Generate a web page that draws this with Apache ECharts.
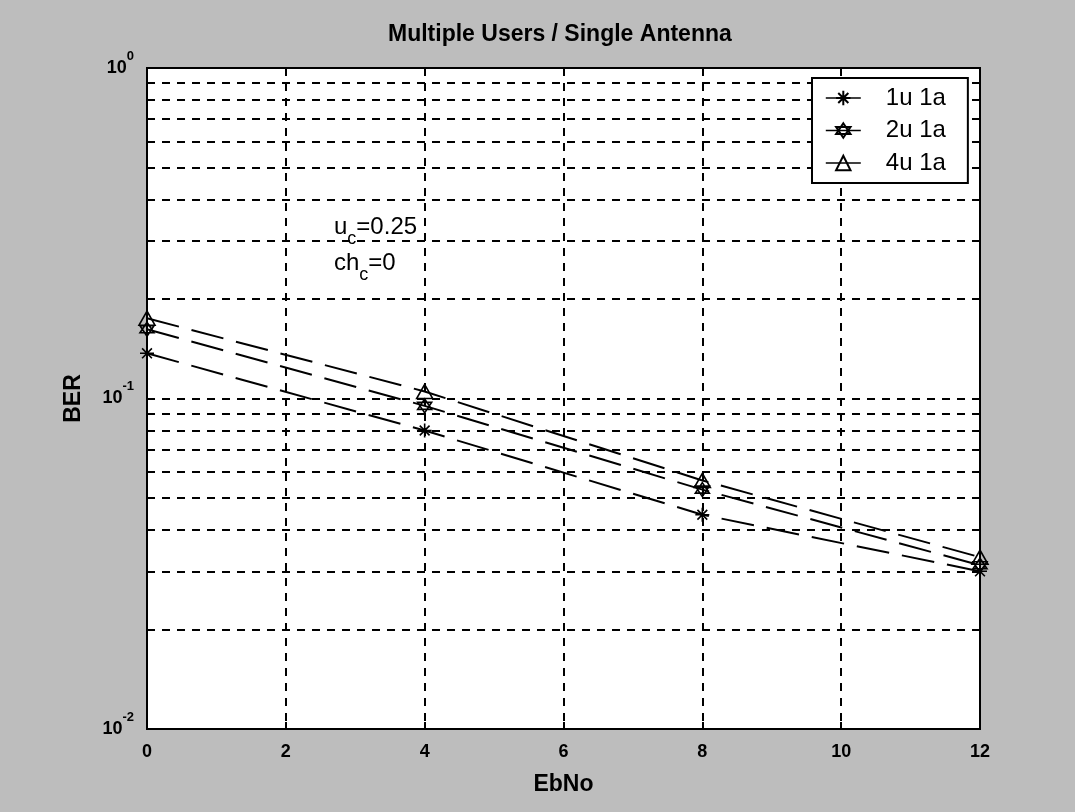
<!DOCTYPE html>
<html>
<head>
<meta charset="utf-8">
<script src="https://cdn.jsdelivr.net/npm/echarts@6/dist/echarts.min.js"></script>
<style>
  html, body { margin: 0; padding: 0; background: #bdbdbd; }
  #chart { width: 1075px; height: 812px; }
</style>
</head>
<body>
<div id="chart"></div>
<script>
// Eb/No points (dB) and measured bit error rates
const ebno = [0, 4, 8, 12];
const ber1u1a = [0.137, 0.080, 0.0445, 0.0300];
const ber2u1a = [0.162, 0.095, 0.053, 0.0313];
const ber4u1a = [0.175, 0.105, 0.0565, 0.0331];
const seriesNames = ['1u 1a', '2u 1a', '4u 1a'];

// axis settings
const ebnoRange = [0, 12];
const ebnoStep = 2;
const berRange = [0.01, 1];
const berMinorLevels = [0.02, 0.03, 0.04, 0.05, 0.06, 0.07, 0.08, 0.09,
                        0.2, 0.3, 0.4, 0.5, 0.6, 0.7, 0.8, 0.9];

const FONT = 'Liberation Sans';
const gridDash = [8, 7];
const curveDash = [33, 13];

const asterisk = 'path://M0,-10L0,10M-10,0L10,0M-7,-7L7,7M-7,7L7,-7';
const hexagram = 'path://M0,-10L8.66,5L-8.66,5ZM0,10L8.66,-5L-8.66,-5Z';

function pairs(ys) { return ebno.map((x, i) => [x, ys[i]]); }

function curve(name, ys, symbol, size) {
  return {
    name: name,
    type: 'line',
    data: pairs(ys),
    symbol: symbol,
    symbolSize: size,
    showAllSymbol: true,
    lineStyle: { color: '#000', width: 2, type: curveDash },
    itemStyle: { color: 'rgba(0,0,0,0)', borderColor: '#000', borderWidth: 1.6 },
    emphasis: { disabled: true }
  };
}

const chart = echarts.init(document.getElementById('chart'), null, { renderer: 'canvas' });

const s1 = curve(seriesNames[0], ber1u1a, asterisk, 14);
s1.markLine = {
  silent: true,
  symbol: ['none', 'none'],
  label: { show: false },
  emphasis: { disabled: true },
  animation: false,
  lineStyle: { color: '#000', width: 2, type: gridDash },
  data: berMinorLevels.map(v => ({ yAxis: v }))
};

chart.setOption({
  animation: false,
  backgroundColor: '#bdbdbd',
  title: {
    text: 'Multiple Users / Single Antenna',
    left: 388,
    top: 23,
    padding: 0,
    textStyle: { fontFamily: FONT, fontSize: 23, fontWeight: 'bold', color: '#000' }
  },
  grid: {
    left: 147, right: 95, top: 68, bottom: 83,
    show: true, backgroundColor: '#fff', borderColor: '#000', borderWidth: 2
  },
  legend: {
    data: seriesNames,
    orient: 'vertical',
    left: 812,
    top: 78,
    z: 20,
    padding: [8, 22, 8, 13],
    itemWidth: 35,
    itemHeight: 18,
    itemGap: 8.5,
    backgroundColor: '#fff',
    borderColor: '#000',
    borderWidth: 2,
    borderRadius: 0,
    selectedMode: false,
    lineStyle: { type: 'solid', width: 1.6 },
    textStyle: { fontFamily: FONT, fontSize: 24, lineHeight: 24, color: '#000', padding: [0, 0, 0, 20] }
  },
  xAxis: [{
    type: 'value',
    min: ebnoRange[0], max: ebnoRange[1], interval: ebnoStep,
    position: 'bottom',
    axisLine: { show: true, lineStyle: { color: '#000', width: 2 } },
    axisTick: { show: true, inside: true, length: 7, lineStyle: { color: '#000', width: 2 } },
    axisLabel: { margin: 14, color: '#000', fontSize: 18, fontWeight: 'bold', fontFamily: FONT },
    splitLine: { show: true, lineStyle: { color: '#000', width: 2, type: gridDash } },
    name: 'EbNo',
    nameLocation: 'middle',
    nameGap: 44,
    nameTextStyle: { fontFamily: FONT, fontSize: 23, fontWeight: 'bold', color: '#000' }
  }, {
    type: 'value',
    min: ebnoRange[0], max: ebnoRange[1], interval: ebnoStep,
    position: 'top',
    axisLine: { show: false },
    axisTick: { show: true, inside: true, length: 7, lineStyle: { color: '#000', width: 2 } },
    axisLabel: { show: false },
    splitLine: { show: false }
  }],
  yAxis: {
    type: 'log',
    logBase: 10,
    min: berRange[0], max: berRange[1],
    axisLine: { show: true, lineStyle: { color: '#000', width: 2 } },
    axisTick: { show: true, inside: true, length: 7, lineStyle: { color: '#000', width: 2 } },
    splitLine: { show: true, lineStyle: { color: '#000', width: 2, type: gridDash } },
    axisLabel: {
      margin: 13,
      color: '#000',
      formatter: function (v) {
        const e = Math.round(Math.log10(v));
        return '{b|10}{s|' + e + '}';
      },
      rich: {
        // tall line box keeps "10" centred on the tick while the exponent sits at its top
        b: { fontFamily: FONT, fontSize: 18, fontWeight: 'bold', color: '#000', lineHeight: 37, verticalAlign: 'middle' },
        s: { fontFamily: FONT, fontSize: 13, fontWeight: 'bold', color: '#000', lineHeight: 13, verticalAlign: 'top' }
      }
    },
    name: 'BER',
    nameLocation: 'middle',
    nameGap: 62,
    nameRotate: 90,
    nameTextStyle: { fontFamily: FONT, fontSize: 23, fontWeight: 'bold', color: '#000' }
  },
  graphic: [{
    type: 'text',
    x: 334, y: 215,
    silent: true,
    style: {
      text: '{m|u}{c|c}{m|=0.25}',
      rich: {
        m: { fontFamily: FONT, fontSize: 24, lineHeight: 24, verticalAlign: 'top', fill: '#000' },
        c: { fontFamily: FONT, fontSize: 18, lineHeight: 33, verticalAlign: 'bottom', fill: '#000' }
      }
    }
  }, {
    type: 'text',
    x: 334, y: 251,
    silent: true,
    style: {
      text: '{m|ch}{c|c}{m|=0}',
      rich: {
        m: { fontFamily: FONT, fontSize: 24, lineHeight: 24, verticalAlign: 'top', fill: '#000' },
        c: { fontFamily: FONT, fontSize: 18, lineHeight: 33, verticalAlign: 'bottom', fill: '#000' }
      }
    }
  }],
  series: [
    s1,
    curve(seriesNames[1], ber2u1a, hexagram, 14),
    curve(seriesNames[2], ber4u1a, 'triangle', [16, 14])
  ]
});
</script>
</body>
</html>
